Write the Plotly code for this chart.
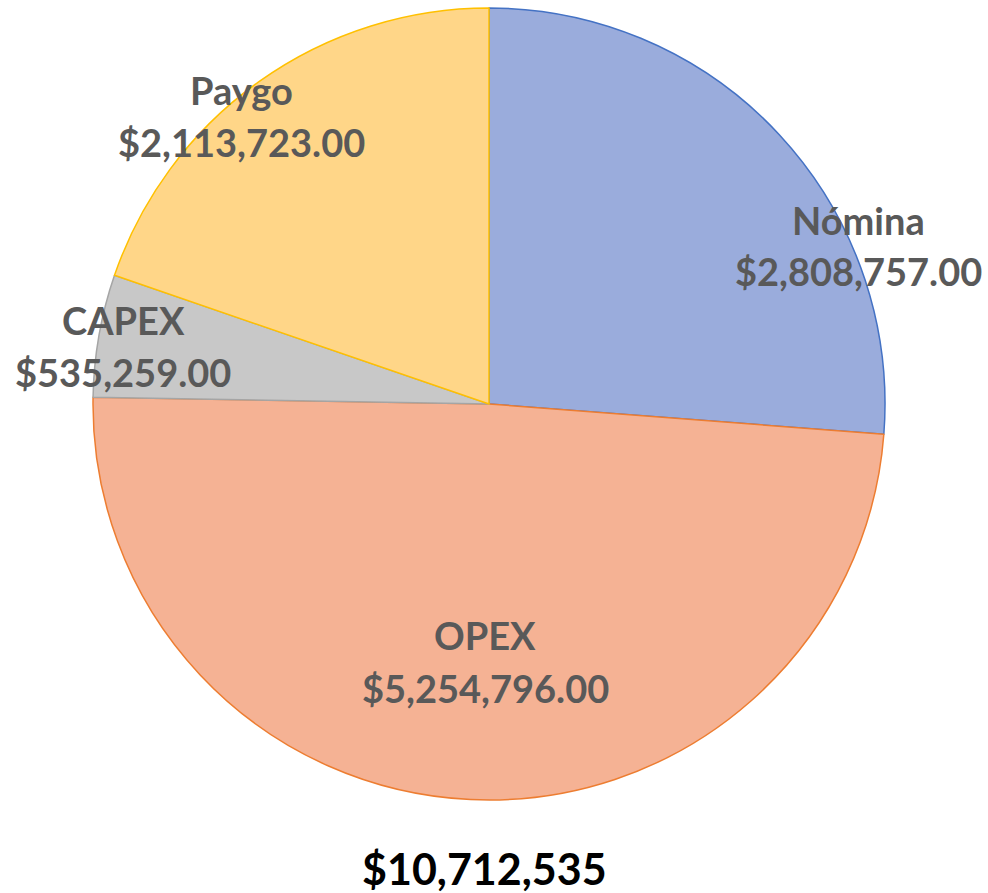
import plotly.graph_objects as go

categories = ["Nómina", "OPEX", "CAPEX", "Paygo"]
values = [2808757, 5254796, 535259, 2113723]
fill_colors = ["#9AACDC", "#F5B294", "#C8C8C8", "#FFD688"]
line_colors = ["#4472C4", "#ED7D31", "#A5A5A5", "#FFC000"]
# label centres in pixels: (x, y of name line, y of value line)
label_pos = [(858, 220, 271), (485, 635, 688), (123, 320, 372), (241, 90, 142)]

W, H = 988, 893
cx, cy, r = 489, 404, 396

fig = go.Figure(go.Pie(
    labels=categories,
    values=values,
    sort=False,
    direction="clockwise",
    rotation=0,
    textinfo="none",
    hoverinfo="label+value",
    marker=dict(colors=fill_colors, line=dict(color=line_colors, width=1.5)),
    domain=dict(x=[(cx - r) / W, (cx + r) / W], y=[1 - (cy + r) / H, 1 - (cy - r) / H]),
    showlegend=False,
))

annotations = []
label_font = dict(family="Lato", size=38, color="#595959")
for cat, v, (px, py1, py2) in zip(categories, values, label_pos):
    annotations.append(dict(
        x=px / W, y=1 - py1 / H, xref="paper", yref="paper",
        text=f"<b>{cat}</b>", showarrow=False, font=label_font,
        xanchor="center", yanchor="middle",
    ))
    annotations.append(dict(
        x=px / W, y=1 - py2 / H, xref="paper", yref="paper",
        text=f"<b>${v:,.2f}</b>", showarrow=False, font=label_font,
        xanchor="center", yanchor="middle",
    ))

total = sum(values)
annotations.append(dict(
    x=484 / W, y=1 - 868 / H, xref="paper", yref="paper",
    text=f"<b>${total:,}</b>", showarrow=False,
    font=dict(family="Lato", size=43, color="#000000"),
    xanchor="center", yanchor="middle",
))

fig.update_layout(
    width=W, height=H,
    margin=dict(l=0, r=0, t=0, b=0),
    paper_bgcolor="white", plot_bgcolor="white",
    annotations=annotations,
)

fig.write_html("out.html", config={"displayModeBar": False})

# remove the browser's default body margin so the figure sits at the page origin
with open("out.html", "r", encoding="utf-8") as f:
    html = f.read()
html = html.replace("<body>", '<body style="margin:0;padding:0;overflow:hidden">', 1)
with open("out.html", "w", encoding="utf-8") as f:
    f.write(html)
